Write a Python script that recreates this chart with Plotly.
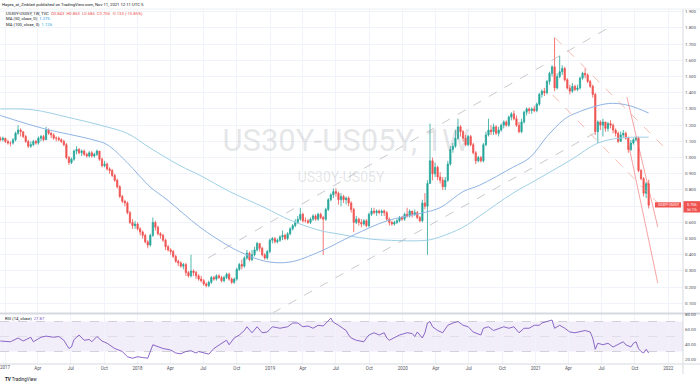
import pandas as pd
import plotly.graph_objects as go

# ---------------- data ----------------
first_week = "2016-12-19"
first_open = 1.12
closes = [
 1.11,1.12,1.10,1.09,1.09,1.11,1.15,1.17,1.16,1.13,
 1.10,1.07,1.08,1.10,1.09,1.12,1.13,1.11,1.17,1.15,
 1.14,1.12,1.12,1.11,1.10,1.08,1.00,0.97,0.99,1.04,
 1.05,1.03,1.04,1.02,1.01,1.03,1.01,1.02,1.04,0.99,
 0.95,0.96,0.93,0.92,0.89,0.86,0.82,0.76,0.73,0.72,
 0.66,0.60,0.58,0.59,0.56,0.54,0.52,0.48,0.46,0.52,
 0.60,0.57,0.53,0.52,0.49,0.45,0.43,0.42,0.39,0.36,
 0.35,0.33,0.34,0.29,0.27,0.30,0.29,0.27,0.25,0.24,
 0.22,0.21,0.23,0.26,0.25,0.27,0.26,0.24,0.26,0.28,
 0.25,0.23,0.25,0.31,0.34,0.33,0.38,0.41,0.37,0.40,
 0.43,0.47,0.44,0.40,0.38,0.42,0.49,0.50,0.48,0.49,
 0.51,0.52,0.50,0.53,0.56,0.58,0.60,0.62,0.65,0.61,
 0.61,0.60,0.62,0.64,0.62,0.65,0.63,0.62,0.68,0.74,
 0.77,0.79,0.78,0.74,0.76,0.74,0.75,0.72,0.68,0.60,
 0.62,0.60,0.59,0.61,0.58,0.65,0.67,0.66,0.67,0.66,
 0.67,0.66,0.62,0.60,0.59,0.60,0.61,0.63,0.62,0.65,
 0.64,0.67,0.65,0.66,0.63,0.61,0.72,0.70,0.84,0.98,
 0.90,0.94,0.88,0.86,0.82,0.86,0.96,1.05,1.07,1.12,
 1.19,1.16,1.12,1.08,1.13,1.08,1.03,0.98,1.00,0.98,
 1.08,1.14,1.17,1.16,1.19,1.15,1.17,1.20,1.22,1.20,
 1.25,1.27,1.24,1.20,1.16,1.22,1.28,1.30,1.29,1.30,
 1.29,1.33,1.39,1.41,1.40,1.47,1.52,1.56,1.43,1.50,
 1.53,1.55,1.48,1.43,1.41,1.44,1.42,1.43,1.49,1.52,
 1.51,1.47,1.44,1.39,1.16,1.22,1.20,1.22,1.18,1.21,
 1.20,1.17,1.15,1.10,1.14,1.15,1.12,1.05,1.09,1.11,
 1.12,0.92,0.87,0.78,0.839,0.706]
highs = [
 1.13,1.13,1.12,1.11,1.10,1.12,1.16,1.20,1.18,1.16,
 1.14,1.11,1.10,1.11,1.11,1.13,1.14,1.14,1.19,1.18,
 1.16,1.15,1.13,1.13,1.12,1.11,1.09,1.01,1.00,1.05,
 1.07,1.06,1.05,1.05,1.03,1.04,1.04,1.03,1.05,1.04,
 1.00,0.98,0.97,0.94,0.93,0.90,0.87,0.83,0.77,0.74,
 0.73,0.67,0.62,0.61,0.60,0.57,0.55,0.53,0.49,0.53,
 0.63,0.61,0.58,0.54,0.53,0.50,0.46,0.44,0.43,0.40,
 0.37,0.36,0.35,0.35,0.30,0.40,0.31,0.30,0.28,0.27,
 0.25,0.23,0.24,0.27,0.27,0.28,0.28,0.27,0.27,0.29,
 0.29,0.26,0.26,0.32,0.35,0.37,0.39,0.43,0.42,0.43,
 0.45,0.48,0.47,0.45,0.41,0.43,0.50,0.51,0.51,0.50,
 0.52,0.55,0.53,0.54,0.57,0.59,0.62,0.64,0.69,0.66,
 0.63,0.62,0.63,0.65,0.65,0.66,0.66,0.64,0.69,0.75,
 0.78,0.81,0.81,0.79,0.78,0.77,0.76,0.76,0.73,0.69,
 0.64,0.63,0.62,0.62,0.62,0.66,0.69,0.69,0.68,0.68,
 0.68,0.68,0.67,0.63,0.61,0.61,0.62,0.64,0.64,0.66,
 0.69,0.68,0.67,0.68,0.67,0.64,0.74,0.78,0.86,1.21,
 1.00,0.97,0.95,0.91,0.88,0.88,0.98,1.07,1.09,1.17,
 1.24,1.20,1.17,1.14,1.14,1.14,1.09,1.04,1.01,1.01,
 1.09,1.16,1.24,1.20,1.21,1.20,1.19,1.21,1.23,1.23,
 1.26,1.28,1.29,1.26,1.22,1.24,1.29,1.31,1.31,1.31,
 1.32,1.34,1.40,1.42,1.43,1.48,1.53,1.57,1.74,1.52,
 1.63,1.57,1.56,1.49,1.45,1.46,1.45,1.45,1.50,1.53,
 1.55,1.52,1.48,1.45,1.40,1.23,1.23,1.24,1.22,1.22,
 1.23,1.21,1.18,1.16,1.16,1.17,1.16,1.13,1.11,1.12,
 1.13,1.13,0.93,0.88,0.85,0.863]
lows = [
 1.10,1.10,1.09,1.08,1.07,1.08,1.10,1.14,1.13,1.12,
 1.09,1.06,1.06,1.07,1.08,1.08,1.10,1.10,1.11,1.14,
 1.12,1.11,1.10,1.10,1.09,1.07,0.99,0.955,0.96,0.98,
 1.02,1.02,1.01,1.01,1.00,1.00,1.00,1.00,1.01,0.98,
 0.94,0.94,0.92,0.90,0.88,0.85,0.81,0.75,0.72,0.70,
 0.65,0.59,0.56,0.56,0.55,0.52,0.50,0.47,0.44,0.45,
 0.51,0.55,0.52,0.50,0.48,0.43,0.42,0.40,0.38,0.35,
 0.33,0.32,0.31,0.27,0.26,0.26,0.27,0.25,0.24,0.23,
 0.21,0.20,0.20,0.22,0.24,0.24,0.25,0.23,0.23,0.25,
 0.24,0.22,0.22,0.24,0.30,0.31,0.32,0.37,0.36,0.36,
 0.39,0.42,0.42,0.39,0.37,0.37,0.41,0.47,0.47,0.47,
 0.48,0.49,0.49,0.49,0.52,0.55,0.57,0.59,0.61,0.60,
 0.60,0.59,0.59,0.61,0.61,0.61,0.62,0.40,0.61,0.67,
 0.73,0.75,0.76,0.71,0.70,0.72,0.71,0.70,0.66,0.54,
 0.59,0.58,0.57,0.58,0.57,0.57,0.64,0.65,0.64,0.65,
 0.64,0.64,0.61,0.58,0.58,0.58,0.59,0.60,0.61,0.61,
 0.63,0.63,0.63,0.64,0.62,0.60,0.60,0.68,0.40,0.84,
 0.86,0.88,0.86,0.84,0.80,0.80,0.85,0.95,1.03,1.06,
 1.11,1.13,1.10,1.07,1.07,1.07,1.02,0.96,0.97,0.97,
 0.97,1.07,1.13,1.14,1.14,1.14,1.13,1.16,1.18,1.19,
 1.19,1.23,1.23,1.19,1.15,1.15,1.21,1.26,1.27,1.27,
 1.28,1.28,1.32,1.37,1.38,1.39,1.45,1.50,1.41,1.42,
 1.49,1.51,1.47,1.42,1.39,1.40,1.41,1.41,1.42,1.48,
 1.49,1.46,1.43,1.37,1.14,1.09,1.17,1.13,1.16,1.16,
 1.18,1.15,1.13,1.09,1.10,1.12,1.11,1.03,1.04,1.08,
 1.10,0.91,0.86,0.76,0.75,0.686]

ma50_dates = ["2016-12-19","2017-04-16","2017-08-31","2017-10-09","2017-12-03","2018-02-04",
              "2018-03-23","2018-06-22","2018-09-12","2018-10-18","2018-12-18","2019-02-24",
              "2019-05-18","2019-08-17","2019-11-19","2020-02-17","2020-04-12","2020-06-15",
              "2020-07-31","2020-10-30","2020-12-16","2021-02-01","2021-03-17","2021-04-07",
              "2021-06-19","2021-08-01","2021-09-17","2021-11-08"]
ma50_vals = [1.26,1.18,1.11,1.08,0.97,0.82,0.74,0.57,0.45,0.41,0.36,0.355,
             0.42,0.52,0.61,0.655,0.69,0.79,0.83,0.94,1.00,1.13,1.23,1.26,
             1.32,1.335,1.32,1.275]
ma100_dates = ["2016-12-19","2017-03-19","2017-06-21","2017-09-20","2017-12-03","2018-02-04",
               "2018-04-28","2018-06-22","2018-09-12","2018-12-18","2019-02-24","2019-05-18",
               "2019-07-04","2019-09-24","2019-11-19","2020-03-08","2020-04-12","2020-06-15",
               "2020-07-31","2020-10-30","2021-01-01","2021-04-07","2021-06-22","2021-08-18",
               "2021-11-08"]
ma100_vals = [1.30,1.295,1.25,1.20,1.15,1.06,0.95,0.89,0.79,0.69,0.615,0.55,
              0.53,0.50,0.49,0.49,0.51,0.57,0.64,0.78,0.86,0.985,1.09,1.12,1.126]

rsi_weeks = [0,1,4,7,9,12,13,16,18,21,23,25,27,28,29,31,33,35,36,38,40,42,45,48,50,52,54,56,58,
             60,62,64,67,69,71,73,75,77,78,80,82,84,86,88,89,90,92,94,96,97,99,101,103,105,107,
             110,113,115,117,119,121,123,125,127,130,131,133,135,136,137,138,140,143,144,145,147,
             149,151,152,153,155,157,160,162,163,164,166,167,168,169,170,172,174,175,176,178,180,
             182,184,186,187,189,190,192,194,196,198,200,202,204,206,208,210,212,213,215,217,218,
             220,222,224,226,228,230,232,233,234,235,237,239,241,243,245,246,248,249,250,251,252,
             253,254,255]
rsi_vals = [44,44,43,48,44,49,43,49,50.5,49,50,45,34,36,46,52,45,46,43,50,44,41,34,30,23,21,23,22,21,
            39,36,34,32,28,27,30,31,28,30,28,26.5,34,39,43,45,39,48,52,58,63,55,63,55,56,63,
            61,63,68,68,63,64,61,65,64,74.5,69,65,61,58,52,48,45,43,48,52,55,
            52,55,48,45,48,52,55,54,50,56,48,55,68,70,63,58,55,61,65,68,70,
            65,63,56,55,52,61,63,58,61,63,61,63,55,61,61,65,65,68,70,72,61,
            65,61,56,55,56,58,56,48,33,41,39,41,36,39,43,39,36,41,43,34,30,
            28,33,27.87]

# user drawings on the chart (date, price) endpoints
asc_upper = (["2018-07-14","2021-07-24"], [0.38, 1.806])
asc_lower = (["2019-01-08","2021-06-27"], [0.041, 1.170])
desc_upper = (["2021-02-23","2021-12-23"], [1.74, 1.059])
desc_lower = (["2021-02-17","2021-12-03"], [1.386, 0.72])
steep_1 = (["2021-09-09","2021-12-03"], [1.374, 0.572])
steep_2 = (["2021-09-11","2021-12-03"], [1.109, 0.226])

tick_dates = ["2017-01-01","2017-04-01","2017-07-01","2017-10-01","2018-01-01","2018-04-01",
              "2018-07-01","2018-10-01","2019-01-01","2019-04-01","2019-07-01","2019-10-01",
              "2020-01-01","2020-04-01","2020-07-01","2020-10-01","2021-01-01","2021-04-01",
              "2021-07-01","2021-10-01","2022-01-01"]
tick_text = ["2017","Apr","Jul","Oct","2018","Apr","Jul","Oct","2019","Apr","Jul","Oct",
             "2020","Apr","Jul","Oct","2021","Apr","Jul","Oct","2022"]
price_ticks = [0.1,0.2,0.3,0.4,0.5,0.6,0.7,0.8,0.9,1.0,1.1,1.2,1.3,1.4,1.5,1.6,1.7,1.8,1.9]
rsi_ticks = [20,40,60,80]

# ---------------- derived ----------------
dates = pd.date_range(first_week, periods=len(closes), freq="7D")
opens = [first_open] + closes[:-1]
highs = [max(h, o, c) for h, o, c in zip(highs, opens, closes)]
lows = [min(l, o, c) for l, o, c in zip(lows, opens, closes)]
rsi_dates = [dates[i] for i in rsi_weeks]

W, H = 700, 384
pane_right = 683 / W
main_dom = [1 - 313 / H, 1 - 10 / H]
rsi_dom = [1 - 364 / H, 1 - 313.5 / H]
x_range = ["2016-12-18 05:00", "2022-02-10 12:00"]
y_range = [0.0407, 1.911]
rsi_range = [13.33, 80.67]

UP, DN = "#26a69a", "#ef5350"
FONT = "Roboto, Arial, sans-serif"
TXT = "#131722"
AX = "#50535e"
GRID = "#f0f3fa"

fig = go.Figure()

# watermark (behind everything)
t0, t1 = pd.Timestamp(x_range[0]), pd.Timestamp(x_range[1])
fig.add_trace(go.Scatter(x=[t0 + (t1 - t0) * (346 / 683)], y=[y_range[1] - (y_range[1] - y_range[0]) * (133 / 303)],
                         mode="text", text=["US30Y-US05Y, 1W"],
                         textfont=dict(size=31, color="rgba(120,123,134,0.2)", family=FONT),
                         hoverinfo="skip", xaxis="x", yaxis="y"))
fig.add_trace(go.Scatter(x=[t0 + (t1 - t0) * (341 / 683)], y=[y_range[1] - (y_range[1] - y_range[0]) * (168 / 303)],
                         mode="text", text=["US30Y-US05Y"],
                         textfont=dict(size=14, color="rgba(120,123,134,0.2)", family=FONT),
                         hoverinfo="skip", xaxis="x", yaxis="y"))

# moving averages
fig.add_trace(go.Scatter(x=ma100_dates, y=ma100_vals, mode="lines", line=dict(color="#9fd0e6", width=1, shape="spline"),
                         hoverinfo="skip", xaxis="x", yaxis="y"))
fig.add_trace(go.Scatter(x=ma50_dates, y=ma50_vals, mode="lines", line=dict(color="#90b4e4", width=1, shape="spline"),
                         hoverinfo="skip", xaxis="x", yaxis="y"))

# drawings
for seg, col, dash in [(asc_upper, "rgba(170,170,170,0.8)", "dash"),
                       (asc_lower, "rgba(170,170,170,0.8)", "dash"),
                       (desc_upper, "rgba(244,150,130,0.8)", "dash"),
                       (desc_lower, "rgba(244,150,130,0.8)", "dash"),
                       (steep_1, "rgba(242,100,100,0.75)", "solid"),
                       (steep_2, "rgba(242,100,100,0.75)", "solid")]:
    fig.add_trace(go.Scatter(x=seg[0], y=seg[1], mode="lines", line=dict(color=col, width=0.8, dash=dash),
                             hoverinfo="skip", xaxis="x", yaxis="y"))

# candles
fig.add_trace(go.Candlestick(x=dates, open=opens, high=highs, low=lows, close=closes,
                             increasing=dict(line=dict(color=UP, width=0.8), fillcolor=UP),
                             decreasing=dict(line=dict(color=DN, width=0.8), fillcolor=DN),
                             whiskerwidth=0, xaxis="x", yaxis="y", hoverinfo="skip"))

# RSI
fig.add_trace(go.Scatter(x=rsi_dates, y=rsi_vals, mode="lines", line=dict(color="#7e57c2", width=0.9),
                         hoverinfo="skip", xaxis="x2", yaxis="y2"))

shapes = [
    dict(type="rect", xref="x2 domain", yref="y2", x0=0, x1=1, y0=30, y1=70,
         fillcolor="rgba(126,87,194,0.1)", line=dict(width=0), layer="below"),
    dict(type="line", xref="x2 domain", yref="y2", x0=0, x1=1, y0=70, y1=70,
         line=dict(color="rgba(120,123,134,0.5)", width=0.6, dash="dash")),
    dict(type="line", xref="x2 domain", yref="y2", x0=0, x1=1, y0=50, y1=50,
         line=dict(color="rgba(120,123,134,0.25)", width=0.6, dash="dash")),
    dict(type="line", xref="x2 domain", yref="y2", x0=0, x1=1, y0=30, y1=30,
         line=dict(color="rgba(120,123,134,0.5)", width=0.6, dash="dash")),
    dict(type="line", xref="paper", yref="paper", x0=0, x1=1, y0=1 - 313.5 / H, y1=1 - 313.5 / H,
         line=dict(color="#d6d9e0", width=2)),
    dict(type="line", xref="paper", yref="paper", x0=0, x1=1, y0=1 - 364 / H, y1=1 - 364 / H,
         line=dict(color="#d6d9e0", width=1)),
    dict(type="line", xref="paper", yref="paper", x0=pane_right, x1=pane_right, y0=1 - 374 / H, y1=1 - 9 / H,
         line=dict(color="#d6d9e0", width=1)),
    dict(type="line", xref="paper", yref="paper", x0=0, x1=1, y0=1 - 9 / H, y1=1 - 9 / H,
         line=dict(color="#eceef2", width=1)),
    # last price label boxes
    dict(type="rect", xref="paper", yref="y", x0=pane_right + 0.5 / W, x1=1, y0=closes[-1] + 0.025, y1=closes[-1] - 0.045,
         fillcolor=DN, line=dict(width=0)),
    dict(type="rect", xref="paper", yref="y", x0=655 / W, x1=681 / W, y0=closes[-1] + 0.018, y1=closes[-1] - 0.014,
         fillcolor=DN, line=dict(width=0)),
]

ann = []
def a(x, y, text, size=4.2, color=TXT, xanchor="left", yref="paper", xref="paper"):
    ann.append(dict(x=x, y=y, xref=xref, yref=yref, text=text, showarrow=False, xanchor=xanchor,
                    yanchor="middle", font=dict(size=size, color=color, family=FONT),
                    borderpad=0, borderwidth=0))

# price-axis and RSI-axis labels, drawn at the right of the pane
for v in price_ticks:
    if abs(v - closes[-1]) > 0.04:
        a(685 / W, v, "%.3f" % v, size=4.4, color=AX, yref="y")
for v in rsi_ticks:
    a(685 / W, v, "%.2f" % v, size=4.4, color=AX, yref="y2")
# first time label, partly cut by the left edge as in the original
a(tick_dates[0], 1 - 367.5 / H, tick_text[0], size=4.5, color=AX, xanchor="center", xref="x2")

a(2 / W, 1 - 4.7 / H, "Hayes_at_Zinblatt published on TradingView.com, Nov 11, 2021 12:11 UTC 5", size=4.2)
a(6 / W, 1 - 13.5 / H,
  "US30Y-US05Y, 1W, TVC  <span style='color:%s'>O%.3f  H%.3f  L%.3f  C%.3f  %.3f (%.2f%%)</span>"
  % (DN, 0.843, highs[-1], lows[-1], closes[-1], closes[-1] - closes[-2],
     (closes[-1] - closes[-2]) / closes[-2] * 100), size=4.2)
a(6 / W, 1 - 19 / H, "MA (50, close, 0)  <span style='color:#2196f3'>%.3f</span>" % ma50_vals[-1], size=4.2)
a(6 / W, 1 - 24.5 / H, "MA (100, close, 0)  <span style='color:#26a6d9'>%.3f</span>" % ma100_vals[-1], size=4.2)
a(5 / W, 1 - 318 / H, "RSI (14, close)  <span style='color:#7e57c2'>%.2f</span>" % rsi_vals[-1], size=4.2)
a(5 / W, 1 - 379 / H, "<b>TV</b> TradingView", size=4.5)
a(668 / W, closes[-1] + 0.002, "US30Y-US05Y", size=3.4, color="white", xanchor="center", yref="y")
a(691.5 / W, closes[-1] + 0.006, "%.3f" % closes[-1], size=3.8, color="white", xanchor="center", yref="y")
a(691.5 / W, closes[-1] - 0.027, "3d 11h", size=3.2, color="white", xanchor="center", yref="y")

fig.update_layout(
    width=W, height=H, margin=dict(l=0, r=0, t=0, b=0),
    paper_bgcolor="white", plot_bgcolor="white", showlegend=False, hovermode=False,
    xaxis=dict(domain=[0, pane_right], range=x_range, type="date", anchor="y",
               tickvals=tick_dates, showticklabels=False, showgrid=True, gridcolor=GRID, gridwidth=1,
               zeroline=False, showline=False, rangeslider=dict(visible=False), fixedrange=True),
    xaxis2=dict(domain=[0, pane_right], range=x_range, type="date", anchor="y2", matches="x",
                tickvals=tick_dates, ticktext=tick_text, showticklabels=True,
                tickfont=dict(size=4.5, color=AX, family=FONT),
                showgrid=True, gridcolor=GRID, zeroline=False, showline=False, ticks="", ticklen=0),
    yaxis=dict(domain=main_dom, range=y_range, side="right", anchor="x",
               tickvals=price_ticks, showticklabels=False,
               showgrid=True, gridcolor=GRID, zeroline=False, showline=False, ticks=""),
    yaxis2=dict(domain=rsi_dom, range=rsi_range, side="right", anchor="x2",
                tickvals=rsi_ticks, showticklabels=False,
                showgrid=False, zeroline=False, showline=False, ticks=""),
    shapes=shapes, annotations=ann,
)

# remove the page's default body margin so the 700x384 figure fills the window exactly
fig.write_html("out.html", config={"displayModeBar": False, "staticPlot": True},
               post_script="document.body.style.margin='0';document.body.style.overflow='hidden';")
